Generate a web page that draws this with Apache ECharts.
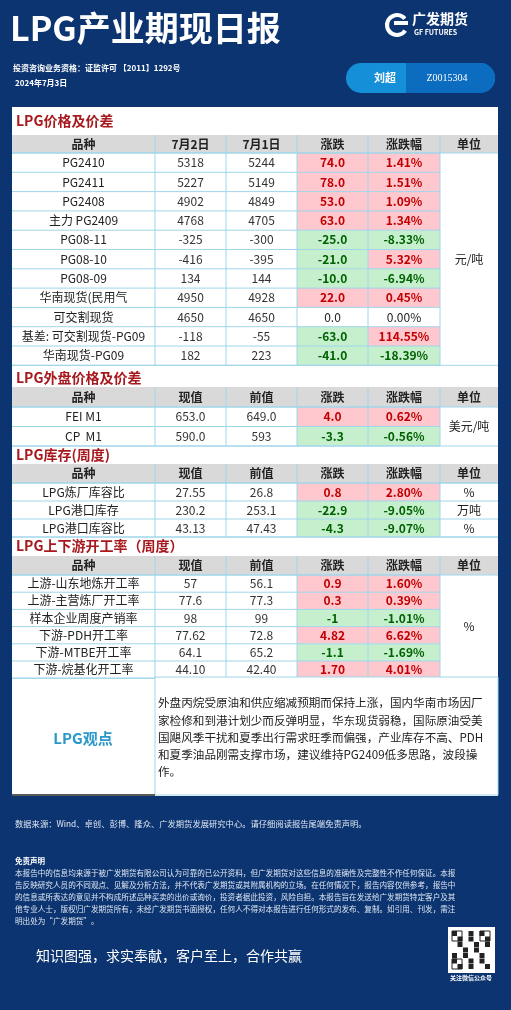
<!DOCTYPE html>
<html><head><meta charset="utf-8">
<script src="https://cdn.jsdelivr.net/npm/echarts@6/dist/echarts.min.js"></script>
<style>html,body{margin:0;padding:0;background:#0b3470}#c{width:511px;height:1010px}</style>
</head><body><div id="c"></div>
<script>
const headers1 = ['品种','7月2日','7月1日','涨跌','涨跌幅','单位'];
const headersN = ['品种','现值','前值','涨跌','涨跌幅','单位'];
const t1Names = ['PG2410','PG2411','PG2408','主力 PG2409','PG08-11','PG08-10','PG08-09','华南现货(民用气','可交割现货','基差: 可交割现货-PG09','华南现货-PG09'];
const t1Cur = ['5318','5227','4902','4768','-325','-416','134','4950','4650','-118','182'];
const t1Prev = ['5244','5149','4849','4705','-300','-395','144','4928','4650','-55','223'];
const t1Chg = ['74.0','78.0','53.0','63.0','-25.0','-21.0','-10.0','22.0','0.0','-63.0','-41.0'];
const t1Pct = ['1.41%','1.51%','1.09%','1.34%','-8.33%','5.32%','-6.94%','0.45%','0.00%','114.55%','-18.39%'];
const t2Names = ['FEI M1','CP  M1'];
const t2Cur = ['653.0','590.0'];
const t2Prev = ['649.0','593'];
const t2Chg = ['4.0','-3.3'];
const t2Pct = ['0.62%','-0.56%'];
const t3Names = ['LPG炼厂库容比','LPG港口库存','LPG港口库容比'];
const t3Cur = ['27.55','230.2','43.13'];
const t3Prev = ['26.8','253.1','47.43'];
const t3Chg = ['0.8','-22.9','-4.3'];
const t3Pct = ['2.80%','-9.05%','-9.07%'];
const t3Unit = ['%','万吨','%'];
const t4Names = ['上游-山东地炼开工率','上游-主营炼厂开工率','样本企业周度产销率','下游-PDH开工率','下游-MTBE开工率','下游-烷基化开工率'];
const t4Cur = ['57','77.6','98','77.62','64.1','44.10'];
const t4Prev = ['56.1','77.3','99','72.8','65.2','42.40'];
const t4Chg = ['0.9','0.3','-1','4.82','-1.1','1.70'];
const t4Pct = ['1.60%','0.39%','-1.01%','6.62%','-1.69%','4.01%'];
const opinion = ['外盘丙烷受原油和供应缩减预期而保持上涨，国内华南市场因厂','家检修和到港计划少而反弹明显，华东现货弱稳，国际原油受美','国飓风季干扰和夏季出行需求旺季而偏强，产业库存不高、PDH','和夏季油品刚需支撑市场，建议维持PG2409低多思路，波段操','作。'];
const disclaimer = ['本报告中的信息均来源于被广发期货有限公司认为可靠的已公开资料，但广发期货对这些信息的准确性及完整性不作任何保证。本报','告反映研究人员的不同观点、见解及分析方法，并不代表广发期货或其附属机构的立场。在任何情况下，报告内容仅供参考，报告中','的信息或所表达的意见并不构成所述品种买卖的出价或询价，投资者据此投资，风险自担。本报告旨在发送给广发期货特定客户及其','他专业人士，版权归广发期货所有，未经广发期货书面授权，任何人不得对本报告进行任何形式的发布、复制。如引用、刊发，需注','明出处为“广发期货”。'];

const F = 'Microsoft YaHei, "Noto Sans CJK SC", sans-serif';
const cols = [12,155,226,297,368,440,498];
const G = [];
const LINE = '#9fd6ea';
function rect(x,y,w,h,fill,stroke){G.push({type:'rect',shape:{x,y,width:w,height:h},style:{fill,stroke:stroke||null,lineWidth:1}});}
function text(x,y,t,size,fill,opt){opt=opt||{};G.push({type:'text',x,y,style:Object.assign({text:t,font:(opt.bold?'bold ':'')+size+'px '+F,fill,textAlign:opt.align||'center',textVerticalAlign:'middle'},opt.extra||{})});}
function cellTxt(ci,y,h,t,color,bold,size){text((cols[ci]+cols[ci+1])/2,y+h/2,t,size||12,color,{bold});}

function table(top,hh,rh,hdr,names,cur,prev,chg,pct,units,unitMerged){
  const n=names.length, W=cols[6]-cols[0];
  rect(cols[0],top,W,hh,'#d9d9d9');
  hdr.forEach((h,i)=>cellTxt(i,top,hh,h,'#222',true,12));
  for(let r=0;r<n;r++){
    const y=top+hh+r*rh;
    rect(cols[0],y,W,rh,'#fff');
    const neg=chg[r].startsWith('-'), zero=parseFloat(chg[r])===0;
    if(!zero) rect(cols[3],y,cols[4]-cols[3],rh,neg?'#c6efce':'#ffc7ce');
    const pneg=pct[r].startsWith('-'), pzero=parseFloat(pct[r])===0;
    if(!pzero) rect(cols[4],y,cols[5]-cols[4],rh,pneg?'#c6efce':'#ffc7ce');
    cellTxt(0,y,rh,names[r],'#222',false);
    cellTxt(1,y,rh,cur[r],'#333',false);
    cellTxt(2,y,rh,prev[r],'#333',false);
    cellTxt(3,y,rh,chg[r],zero?'#222':(neg?'#006100':'#c00000'),!zero);
    cellTxt(4,y,rh,pct[r],pzero?'#222':(pneg?'#006100':'#c00000'),!pzero);
    if(!unitMerged) cellTxt(5,y,rh,units[r],'#222',false);
  }
  const bot=top+hh+n*rh;
  if(unitMerged) cellTxt(5,top+hh,n*rh,units,'#222',false);
  for(let r=0;r<=n;r++){const y=top+hh+r*rh; G.push({type:'line',shape:{x1:cols[0],y1:y,x2:unitMerged?cols[5]:cols[6],y2:y},style:{stroke:LINE,lineWidth:1}});}
  G.push({type:'line',shape:{x1:cols[0],y1:top+hh,x2:cols[6],y2:top+hh},style:{stroke:LINE}});
  G.push({type:'line',shape:{x1:cols[0],y1:bot,x2:cols[6],y2:bot},style:{stroke:LINE}});
  for(let i=1;i<6;i++) G.push({type:'line',shape:{x1:cols[i],y1:top,x2:cols[i],y2:bot},style:{stroke:LINE}});
  return bot;
}
function section(y,t){text(16,y,t,14,'#a8191e',{bold:true,align:'left'});}

text(10,28,'LPG产业期现日报',34,'#fff',{bold:true,align:'left'});
text(412,19,'广发期货',14,'#fff',{bold:true,align:'left'});
text(414,32,'GF FUTURES',7,'#fff',{bold:true,align:'left'});
G.push({type:'arc',shape:{cx:397,cy:25,r:10,startAngle:0.6,endAngle:5.6},style:{fill:null,stroke:'#fff',lineWidth:4}});
rect(394,21,14,4,'#fff');
text(13,68,'投资咨询业务资格：证监许可 【2011】1292号',8,'#fff',{bold:true,align:'left'});
text(15,83,'2024年7月3日',8,'#fff',{bold:true,align:'left'});
rect(346,63,149,30,'#1590d8');G[G.length-1].shape.r=15;
rect(406,63,89,30,'#0b6cc0');G[G.length-1].shape.r=[0,15,15,0];
text(385,78,'刘超',11,'#fff',{bold:true});
text(447,78,'Z0015304',10,'#fff',{extra:{font:'10px "Liberation Serif", serif'}});
rect(12,107,486,689,'#fff');
section(121,'LPG价格及价差');
table(135,18,19.3,headers1,t1Names,t1Cur,t1Prev,t1Chg,t1Pct,'元/吨',true);
section(378,'LPG外盘价格及价差');
table(387,20,19.5,headersN,t2Names,t2Cur,t2Prev,t2Chg,t2Pct,'美元/吨',true);
section(455,'LPG库存(周度)');
table(464,19,18,headersN,t3Names,t3Cur,t3Prev,t3Chg,t3Pct,t3Unit,false);
section(546,'LPG上下游开工率（周度）');
table(556,19,17.2,headersN,t4Names,t4Cur,t4Prev,t4Chg,t4Pct,'%',true);
rect(155,677,343,118,'#fff','#9fd6ea');
text(83,738,'LPG观点',15,'#2a98c8',{bold:true});
opinion.forEach((l,i)=>text(158,703+i*17.2,l,11.6,'#222',{align:'left'}));
G.push({type:'line',shape:{x1:12,y1:795,x2:155,y2:795},style:{stroke:'#222',lineWidth:1.5}});
text(15,824,'数据来源：Wind、卓创、彭博、隆众、广发期货发展研究中心。请仔细阅读报告尾端免责声明。',8.3,'#dfe6f2',{align:'left'});
text(15,861,'免责声明',7.5,'#fff',{bold:true,align:'left'});
disclaimer.forEach((l,i)=>text(15,873+i*12,l,7.6,'#dfe6f2',{align:'left'}));
text(36,956,'知识图强，求实奉献，客户至上，合作共赢',14,'#fff',{align:'left'});
rect(448,927,47,46,'#fff');
for(let i=0;i<7;i++)for(let j=0;j<7;j++){if(((i*7+j)*37)%5<2)rect(452+j*5.5,931+i*5.5,5,5,'#222');}
[[452,931],[480,931],[452,959]].forEach(p=>{rect(p[0],p[1],10,10,null,'#222');});
text(471,978,'关注微信公众号',6,'#fff',{bold:true});

const chart=echarts.init(document.getElementById('c'));
chart.setOption({backgroundColor:'#0b3470',animation:false,graphic:{elements:G}});
</script></body></html>
